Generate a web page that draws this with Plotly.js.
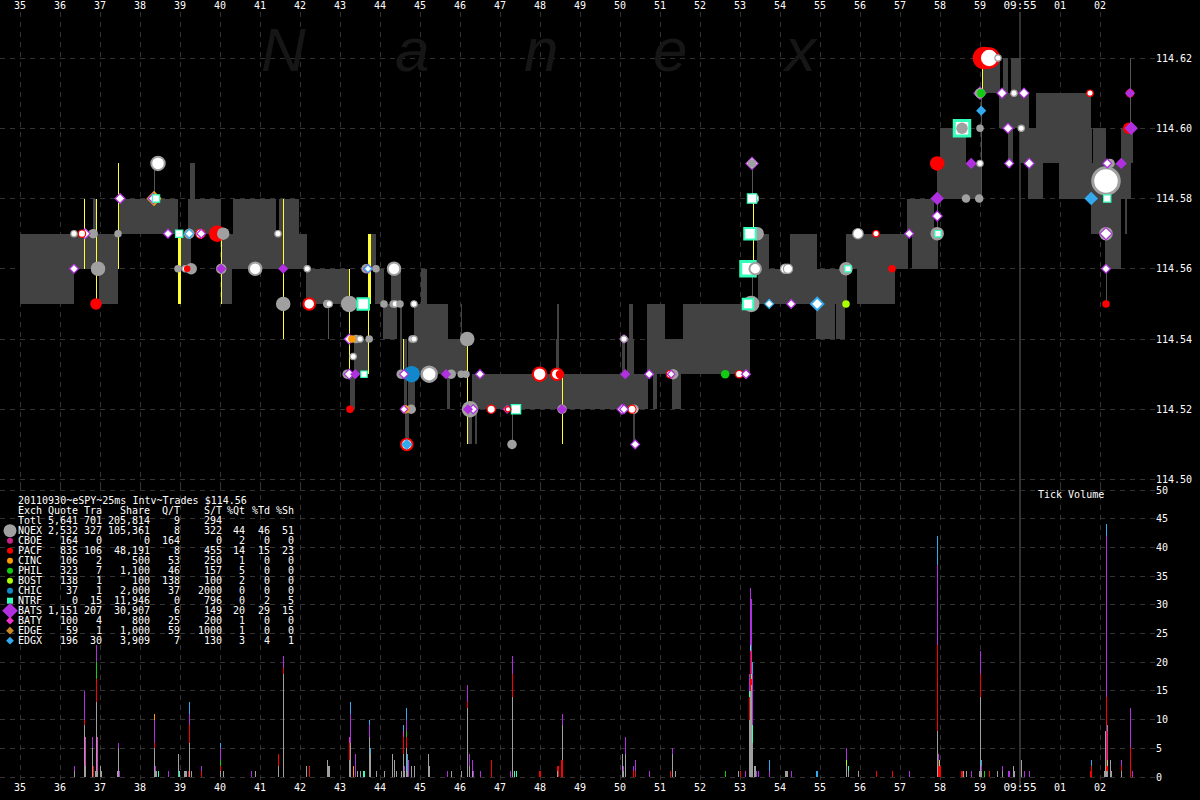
<!DOCTYPE html>
<html><head><meta charset="utf-8">
<script src="https://cdn.plot.ly/plotly-3.0.1.min.js"></script>
<style>html,body{margin:0;padding:0;background:#000}#c{width:1200px;height:800px}
.bars path,.js-line{shape-rendering:crispEdges}</style>
</head><body><div id="c"></div>
<script>
// ---------- labels ----------
const secondTicks=[35,36,37,38,39,40,41,42,43,44,45,46,47,48,49,50,51,52,53,54,55,56,57,58,59,60,61,62];
const secondLabels=['35','36','37','38','39','40','41','42','43','44','45','46','47','48','49','50','51','52','53','54','55','56','57','58','59','<span style="font-size:11px">09:55</span>','01','02'];
const priceTicks=[114.50,114.52,114.54,114.56,114.58,114.60,114.62];
const priceLabels=['114.50','114.52','114.54','114.56','114.58','114.60','114.62'];
const volTicks=[0,5,10,15,20,25,30,35,40,45,50];

// ---------- exchange table ----------
const tableTitle='20110930~eSPY~25ms Intv~Trades $114.56';
const tableHead=['Exch','Quote','Tra','Share','Q/T','S/T','%Qt','%Td','%Sh'];
const rowExch =['Totl','NQEX','CBOE','PACF','CINC','PHIL','BOST','CHIC','NTRF','BATS','BATY','EDGE','EDGX'];
const rowQuote=['5,641','2,532','164','835','106','323','138','37','0','1,151','100','59','196'];
const rowTra  =['701','327','0','106','2','7','1','1','15','207','4','1','30'];
const rowShare=['205,814','105,361','0','48,191','500','1,100','100','2,000','11,946','30,907','800','1,000','3,909'];
const rowQT   =['9','8','164','8','53','46','138','37','0','6','25','59','7'];
const rowST   =['294','322','0','455','250','157','100','2000','796','149','200','1000','130'];
const rowPQt  =['','44','2','14','1','5','2','0','0','20','1','1','3'];
const rowPTd  =['','46','0','15','0','0','0','0','2','29','0','0','4'];
const rowPSh  =['','51','0','23','0','0','0','0','5','15','0','0','1'];
const keyColor=[null,'#a0a0a0','#cc2288','#ff0000','#ff9900','#11cc11','#aaff00','#1188cc','#33ffbb','#b030e0','#ee33cc','#cc8822','#33aaee'];
const keySymbol=[null,'circle','circle','circle','circle','circle','circle','circle','square','diamond','diamond','diamond','diamond'];
const keySize=[0,13,6,6,6,6,6,6,6,12,6,6,6];

// ---------- NBBO band: start, end, low, high ----------
const bandT0=[35.0,36.35,36.98,36.83,37.48,39.25,39.2,39.0,40.03,40.3,40.33,41.48,42.15,43.35,43.25,43.78,43.88,44.08,44.28,45.03,44.85,44.7,44.5,44.6,44.7,44.63,45.68,46.03,46.18,46.38,46.3,48.43,48.4,50.23,50.18,50.05,50.33,50.68,51.13,51.58,50.83,51.3,53.43,53.45,54.25,54.9,55.4,55.65,55.93,57.18,57.3,57.93,58.0,59.05,59.48,59.58,59.78,60.4,60.0,61.83,62.53,59.7,60.2,60.98,61.78,62.13,62.63];
const bandT1=[36.35,36.98,37.45,36.93,38.95,39.38,40.03,39.28,40.3,42.18,41.4,41.98,43.23,43.7,43.38,43.9,44.1,44.43,44.53,45.18,45.7,46.18,44.55,44.68,44.88,44.73,45.75,46.05,46.3,46.43,50.7,48.48,48.48,50.33,50.35,50.13,50.38,51.13,51.58,53.25,50.93,51.53,53.73,55.68,54.93,55.38,55.63,57.2,56.88,57.85,57.95,59.03,58.65,59.5,60.23,59.7,60.03,61.78,61.8,62.15,62.83,59.83,60.58,62.78,62.53,62.53,62.68];
const bandLo=[114.55,114.56,114.55,114.57,114.57,114.58,114.57,114.56,114.55,114.56,114.57,114.57,114.55,114.53,114.52,114.56,114.55,114.54,114.55,114.55,114.54,114.53,114.53,114.52,114.52,114.51,114.52,114.54,114.51,114.51,114.52,114.54,114.53,114.54,114.53,114.53,114.51,114.53,114.53,114.53,114.52,114.52,114.56,114.55,114.56,114.54,114.54,114.56,114.55,114.57,114.56,114.58,114.59,114.61,114.60,114.61,114.61,114.60,114.59,114.59,114.59,114.59,114.58,114.58,114.57,114.56,114.57];
const bandHi=[114.57,114.57,114.57,114.58,114.58,114.59,114.58,114.57,114.57,114.57,114.58,114.58,114.56,114.54,114.53,114.57,114.56,114.55,114.56,114.56,114.55,114.54,114.55,114.54,114.53,114.52,114.53,114.55,114.52,114.52,114.53,114.55,114.54,114.55,114.54,114.54,114.52,114.55,114.54,114.55,114.53,114.53,114.57,114.56,114.57,114.55,114.55,114.57,114.56,114.58,114.57,114.59,114.60,114.62,114.61,114.62,114.62,114.61,114.60,114.60,114.60,114.60,114.59,114.59,114.58,114.57,114.58];

// ---------- trade-through lines ----------
const yellowT=[36.61,36.91,37.46,40.03,41.58,43.23,43.7,44.58,46.18,48.55,53.33,59.05];
const yellowFrom=[114.58,114.58,114.59,114.57,114.58,114.56,114.55,114.54,114.54,114.53,114.58,114.62];
const yellowTo=[114.56,114.55,114.56,114.55,114.54,114.53,114.53,114.53,114.51,114.51,114.56,114.61];
const thickT=[38.98,43.74];
const thickFrom=[114.57,114.57];
const thickTo=[114.55,114.55];
const grayT=[38.35,42.7,53.3,53.3,59.03,62.75,62.15,57.93,47.3];
const grayFrom=[114.59,114.55,114.59,114.56,114.61,114.62,114.56,114.58,114.52];
const grayTo=[114.58,114.54,114.58,114.55,114.58,114.60,114.55,114.57,114.51];
const minuteLine=60;

// ---------- quotes and trades per exchange: time, price, size, white centre ----------
const nqexT=[36.35,36.83,37.45,38.45,40.08,41.45,36.95,38.95,39.13,39.28,40.03,40.88,42.18,43.65,43.9,44.35,41.58,42.68,42.73,43.23,44.1,44.33,44.38,44.5,44.85,43.4,43.5,43.73,44.8,44.85,46.18,50.1,43.33,43.18,44.53,45.23,45.78,46.03,46.15,51.33,44.78,46.25,48.55,50.35,47.3,59.45,59.0,59.85,58.55,59.0,60.03,59.0,53.3,62.25,62.15,53.35,58.65,58.98,53.43,55.95,57.93,62.15,53.38,54.13,54.2,55.65,53.28,39.23];
const nqexP=[114.57,114.57,114.57,114.59,114.57,114.57,114.56,114.56,114.56,114.56,114.56,114.56,114.56,114.56,114.56,114.56,114.55,114.55,114.55,114.55,114.55,114.55,114.55,114.55,114.55,114.54,114.54,114.54,114.54,114.54,114.54,114.54,114.535,114.53,114.53,114.53,114.53,114.53,114.53,114.53,114.52,114.52,114.52,114.52,114.51,114.62,114.61,114.61,114.60,114.60,114.60,114.59,114.59,114.59,114.585,114.58,114.58,114.58,114.57,114.57,114.57,114.57,114.56,114.56,114.56,114.56,114.55,114.57];
const nqexS=[7,9,7,15,12,7,14,7,7,11,10,14,7,9,7,14,14,8,7,16,7,7,7,7,7,8,7,7,7,7,14,7,7,9,9,17,9,7,7,10,9,16,9,9,9,7,10,7,11,7,7,7,8,9,29,10,8,8,13,11,13,13,13,10,10,13,16,10];
const nqexW=[1,0,0,1,0,1,0,0,1,0,0,1,1,0,0,1,0,0,1,0,0,0,1,0,1,0,1,0,1,1,0,1,1,0,0,1,0,0,0,0,0,0,0,1,0,1,0,1,0,0,1,1,0,0,1,1,0,0,0,1,0,0,1,1,1,0,0,0];

const pacfT=[36.55,39.51,39.93,36.9,42.23,39.18,47.99,48.42,48.5,51.25,52.98,46.78,47.2,50.3,43.25,44.67,59.1,59.23,61.75,62.75,62.72,57.93,56.4,56.8,62.15];
const pacfP=[114.57,114.57,114.57,114.55,114.55,114.56,114.53,114.53,114.53,114.53,114.53,114.52,114.52,114.52,114.52,114.51,114.62,114.62,114.61,114.61,114.60,114.59,114.57,114.56,114.55];
const pacfS=[8,10,16,11,13,6,15,13,8,8,8,9,6,9,7,13,22,21,7,8,11,14,7,7,7];
const pacfW=[1,1,0,0,1,0,1,1,0,1,1,1,1,1,0,1,0,1,1,0,0,0,1,0,0];

const cincT=[43.3,44.63];
const cincP=[114.54,114.52];
const cincS=[7,8];
const cincW=[0,0];
const edgeT=[38.35];
const edgeP=[114.58];
const edgeS=[12];
const edgeW=[1];
const philT=[52.63,59.03];
const philP=[114.53,114.61];
const philS=[8,8];
const philW=[0,0];
const bostT=[55.65];
const bostP=[114.55];
const bostS=[7];
const bostW=[0];
const chicT=[44.79];
const chicP=[114.53];
const chicS=[16];
const chicW=[0];

const batsT=[36.63,37.5,38.33,38.7,39.53,36.35,40.03,41.58,43.7,43.23,43.23,43.38,44.6,45.65,46.5,50.13,50.73,51.28,53.15,46.33,46.2,47.18,48.55,50.05,50.1,50.38,44.6,59.55,60.1,62.75,59.0,59.7,62.78,58.78,59.73,60.23,53.3,62.18,62.53,57.93,57.93,57.23,62.15,62.15,54.28,50.1];
const batsP=[114.57,114.58,114.58,114.57,114.57,114.56,114.56,114.56,114.56,114.54,114.53,114.53,114.53,114.53,114.53,114.53,114.53,114.53,114.53,114.52,114.52,114.52,114.52,114.52,114.52,114.51,114.52,114.61,114.61,114.61,114.61,114.60,114.60,114.59,114.59,114.59,114.59,114.59,114.59,114.58,114.575,114.57,114.57,114.56,114.55,114.54];
const batsS=[9,9,9,8,8,8,8,8,8,9,9,8,8,8,8,8,8,7,8,8,8,7,8,9,8,8,7,9,9,8,11,9,11,9,8,9,11,8,9,11,9,8,11,8,8,8];
const batsW=[1,1,1,1,1,1,0,0,1,1,1,0,1,0,1,0,1,1,1,1,0,1,0,1,1,1,1,1,1,0,1,1,0,0,1,1,1,1,0,0,1,1,1,1,1,0];

const edgxT=[39.23,43.7,44.67,59.03,61.78,53.73,54.93];
const edgxP=[114.57,114.56,114.51,114.605,114.58,114.55,114.55];
const edgxS=[8,7,9,8,11,8,12];
const edgxW=[1,1,0,0,0,1,1];

const ntrfT=[38.4,38.98,43.58,43.6,47.4,58.55,53.3,53.25,53.2,57.95,62.18,55.7,53.2];
const ntrfP=[114.58,114.57,114.55,114.53,114.52,114.60,114.58,114.57,114.56,114.57,114.58,114.56,114.55];
const ntrfS=[8,8,13,7,10,18,10,13,17,7,8,7,12];
const ntrfW=[1,1,1,1,1,1,1,1,1,1,1,1,1];

// ---------- tick volume per exchange ----------
const volNqexT=[36.356,36.614,36.633,36.806,36.892,36.911,36.94,37.006,37.035,37.44,37.466,38.355,38.384,38.413,38.958,39.12,39.145,39.17,39.235,39.283,40.01,40.087,40.88,41.464,41.589,42.172,42.689,42.718,42.74,43.234,43.253,43.445,43.512,43.73,43.76,43.913,44.115,44.306,44.373,44.40,44.545,44.593,44.622,44.66,44.688,44.794,44.86,45.215,45.234,45.789,46.028,46.181,46.248,46.305,47.31,48.43,48.56,50.055,50.093,50.131,51.308,51.385,52.963,53.225,53.25,53.275,53.3,53.36,53.39,53.45,54.14,54.165,54.19,54.915,55.661,55.70,55.967,57.94,58.59,58.655,58.99,59.019,59.04,59.449,59.564,59.841,59.865,60.03,62.10,62.125,62.15,62.175,62.26,62.285,62.53];
const volNqexV=[1,9,2,5,1,13,1,2,1,1,5,5,1,1,4,1,1,1,6,1,1,1,1,2,18,2,3,2,2,3,6,1,1,7,4,1,1,4,3,1,1,4,1,5,1,2,2,4,2,1,1,12,2,1,14,1,9,4,1,4,4,1,1,10,15,16,6,2,2,1,1,1,1,1,2,1,1,8,1,1,1,14,1,1,1,2,1,3,1,8,1,1,3,1,1];
const volPacfT=[36.614,36.83,36.911,38.355,39.21,39.235,39.532,40.01,41.464,41.589,42.23,43.234,44.593,44.66,46.181,46.784,47.31,47.98,48.005,48.43,48.455,48.534,48.55,50.33,50.38,51.26,53.0,53.225,53.25,53.275,56.407,56.809,57.94,57.965,57.99,58.015,58.54,58.565,59.019,59.24,61.77,61.79,62.15,62.175,62.53,62.76];
const volPacfV=[1,2,4,1,1,3,1,1,2,1,2,3,3,2,1,3,4,1,1,1,2,3,3,1,1,1,1,4,7,1,1,1,15,3,2,2,1,1,4,1,1,2,13,1,1,5];
const volPhilT=[36.911,40.01,44.66,52.628,59.114];
const volPhilV=[3,1,1,1,1];
const volBostT=[55.661];
const volBostV=[1];
const volNtrfT=[38.46,38.987,43.59,43.615,47.367,47.405,53.225,53.25,53.275,53.3,55.70,57.99,62.175];
const volNtrfV=[1,1,1,1,1,1,1,1,1,3,1,1,1];
const volBatsT=[36.356,36.614,36.806,36.911,37.466,37.494,38.355,38.384,38.709,39.235,39.532,40.01,40.785,41.589,43.253,43.387,43.73,44.622,44.66,44.717,45.684,46.181,46.248,46.305,46.334,46.506,47.262,47.31,48.56,50.093,50.131,50.33,50.38,50.734,51.308,53.145,53.225,53.25,53.275,53.3,53.41,53.46,53.738,54.283,55.661,57.239,57.94,57.965,58.78,59.019,59.04,59.564,59.717,59.74,60.11,60.23,62.15,62.175,62.53,62.76,62.81];
const volBatsV=[1,5,2,3,1,1,4,1,1,2,1,2,1,2,5,4,2,1,2,3,1,3,2,2,1,1,1,3,2,1,3,1,2,1,1,1,3,10,13,9,1,1,1,1,2,1,14,1,1,4,1,1,1,1,1,1,28,5,1,7,1];
const volBatyT=[36.633,36.94,43.234,44.593];
const volBatyV=[5,6,1,1];
const volEdgxT=[39.235,40.01,43.253,43.73,43.76,44.593,44.66,44.688,53.3,53.738,54.90,54.93,57.94,59.04,61.79,62.15,62.175];
const volEdgxV=[2,1,2,1,1,1,2,3,2,2,1,1,5,1,1,2,1];
const volCincT=[38.355,43.34];
const volCincV=[1,2];

// ---------- build ----------
const C={nqex:'#a0a0a0',pacf:'#ff0000',cinc:'#ff9900',edge:'#cc8822',phil:'#11cc11',bost:'#aaff00',chic:'#1188cc',bats:'#b030e0',edgx:'#33aaee',ntrf:'#33ffbb',baty:'#ee33cc',band:'#424242'};
const PLOT_W=1155,PLOT_TOP=12,PLOT_BOT=780,PLOT_H=PLOT_BOT-PLOT_TOP,SPLIT=485;
const paperX=px=>px/PLOT_W;
const paperY=py=>(PLOT_BOT-py)/PLOT_H;
const secAt=px=>34.5+px/40;
const volAt=py=>(777-py)/5.74;

const traces=[];
// band
traces.push({type:'bar',xaxis:'x2',yaxis:'y',x:bandT0,y:bandHi.map((h,i)=>h-bandLo[i]),base:bandLo,
  width:bandT0.map((t,i)=>bandT1[i]-t),offset:0,marker:{color:C.band,opacity:1,line:{width:0}},hoverinfo:'skip',showlegend:false});
// lines
function seg(ts,a,b){const x=[],y=[];ts.forEach((t,i)=>{x.push(t,t,null);y.push(a[i],b[i],null)});return{x,y}}
function lineTrace(s,color,w){return{type:'scatter',mode:'lines',xaxis:'x2',yaxis:'y',x:s.x,y:s.y,line:{color,width:w},hoverinfo:'skip',showlegend:false}}
traces.push(lineTrace(seg(grayT,grayFrom,grayTo),'#555555',1));
traces.push(lineTrace(seg(yellowT,yellowFrom,yellowTo),'#ffff33',1));
traces.push(lineTrace(seg(thickT,thickFrom,thickTo),'#ffff33',3));
// markers, largest first
const sets=[[nqexT,nqexP,nqexS,nqexW,C.nqex,'circle'],[pacfT,pacfP,pacfS,pacfW,C.pacf,'circle'],[cincT,cincP,cincS,cincW,C.cinc,'circle'],
 [edgeT,edgeP,edgeS,edgeW,'#e8a020','diamond'],[philT,philP,philS,philW,C.phil,'circle'],[bostT,bostP,bostS,bostW,C.bost,'circle'],
 [chicT,chicP,chicS,chicW,C.chic,'circle'],[batsT,batsP,batsS,batsW,C.bats,'diamond'],[edgxT,edgxP,edgxS,edgxW,C.edgx,'diamond'],[ntrfT,ntrfP,ntrfS,ntrfW,C.ntrf,'square']];
let pts=[];
sets.forEach(([t,p,s,w,c,sym])=>t.forEach((v,i)=>pts.push({t:v,p:p[i],s:s[i],w:w[i],c,sym})));
pts=pts.map((d,i)=>({...d,i})).sort((a,b)=>b.s-a.s||a.i-b.i);
const lw=d=>!d.w?0:(d.s>=26?3:d.s>=17?(d.sym==='square'?3:2.5):d.s>=12?2:1.2);
const drawSize=d=>d.sym==='diamond'?(d.s+1-lw(d))/1.15:d.s+0.5-lw(d);
traces.push({type:'scatter',mode:'markers',xaxis:'x2',yaxis:'y',x:pts.map(d=>d.t),y:pts.map(d=>d.p),
  marker:{opacity:1,symbol:pts.map(d=>d.sym),size:pts.map(drawSize),
    color:pts.map(d=>d.w?'#ffffff':d.c),line:{color:pts.map(d=>d.c),width:pts.map(lw)}},hoverinfo:'skip',showlegend:false});
// stacked volume bars
const stackBase=new Map();
function volTrace(ts,vs,color){
  const base=ts.map((t,i)=>{const b=stackBase.get(t)||0;stackBase.set(t,b+vs[i]);return b});
  return{type:'bar',xaxis:'x',yaxis:'y2',x:ts,y:vs,base,width:0.025,marker:{color,opacity:1,line:{width:0}},hoverinfo:'skip',showlegend:false};
}
[[volNqexT,volNqexV,C.nqex],[volPacfT,volPacfV,C.pacf],[volPhilT,volPhilV,C.phil],[volBostT,volBostV,C.bost],[volNtrfT,volNtrfV,C.ntrf],
 [volBatsT,volBatsV,C.bats],[volBatyT,volBatyV,C.baty],[volCincT,volCincV,C.cinc],[volEdgxT,volEdgxV,C.edgx]].forEach(a=>traces.push(volTrace(...a)));
// table keys
const ROW0=520.7,ROWH=10,keyIdx=rowExch.map((e,i)=>i).filter(i=>keyColor[i]);
traces.push({type:'scatter',mode:'markers',xaxis:'x',yaxis:'y2',x:keyIdx.map(()=>secAt(10)),y:keyIdx.map(i=>volAt(ROW0+i*ROWH)),
  marker:{opacity:1,symbol:keyIdx.map(i=>keySymbol[i]),size:keyIdx.map(i=>keySize[i]),color:keyIdx.map(i=>keyColor[i]),line:{width:0}},hoverinfo:'skip',showlegend:false});

// annotations
const mono='"DejaVu Sans Mono", monospace';
const anns=[];
function label(text,px,py,anchor,size,color,family){anns.push({text,xref:'paper',yref:'paper',x:paperX(px),y:paperY(py),xanchor:anchor,yanchor:'middle',showarrow:false,
  font:{family:family||mono,size:size||10,color:color||'#ffffff'},borderpad:0,borderwidth:0,align:anchor});}
label(tableTitle,18,500.7,'left');
const colEnd=[42,78,102,150,180,222,245,270,294];
tableHead.forEach((h,i)=>label(h,i===0?18:colEnd[i],510.7,i===0?'left':'right'));
[rowExch,rowQuote,rowTra,rowShare,rowQT,rowST,rowPQt,rowPTd,rowPSh].forEach((col,c)=>col.forEach((v,r)=>{
  if(v!=='')label(v,c===0?18:colEnd[c],ROW0+r*ROWH,c===0?'left':'right');}));
label('Tick Volume',1038,494.5,'left');
const mark=['N','a','n','e','x'];
const markX=[283,412,541,670,800];
mark.forEach((m,i)=>label('<i>'+m+'</i>',markX[i],50,'center',62,'#161616','"Liberation Sans", sans-serif'));

const grid={showgrid:true,gridcolor:'#333333',griddash:'5px,5px',gridwidth:1,zeroline:false,showline:false,ticks:''};
const tickFont={family:mono,size:10,color:'#ffffff'};
const xbase=Object.assign({},grid,{type:'linear',range:[secAt(0),secAt(PLOT_W)],tickmode:'array',tickvals:secondTicks,ticktext:secondLabels,tickfont:tickFont,tickangle:0,fixedrange:true});
const layout={width:1200,height:800,paper_bgcolor:'#000',plot_bgcolor:'rgba(0,0,0,0)',showlegend:false,barmode:'overlay',hovermode:false,
  margin:{l:0,r:45,t:PLOT_TOP,b:800-PLOT_BOT,pad:0},
  xaxis:Object.assign({},xbase,{anchor:'y2',side:'bottom'}),
  xaxis2:Object.assign({},xbase,{anchor:'y',side:'top'}),
  yaxis:Object.assign({},grid,{domain:[paperY(SPLIT),1],anchor:'x2',side:'right',range:[114.50-5.5/3512.5,114.62+46/3512.5],tickmode:'array',tickvals:priceTicks,ticktext:priceLabels,tickfont:tickFont,fixedrange:true}),
  yaxis2:Object.assign({},grid,{domain:[0,paperY(SPLIT)],anchor:'x',side:'right',range:[-3/5.74,(777-SPLIT)/5.74],tickmode:'array',tickvals:volTicks,ticktext:volTicks.map(String),tickfont:tickFont,fixedrange:true}),
  shapes:[{type:'line',layer:'below',xref:'x',yref:'paper',x0:minuteLine,x1:minuteLine,y0:-8/PLOT_H,y1:1,line:{color:'#666666',width:1}}],
  annotations:anns};
Plotly.newPlot('c',traces,layout,{displayModeBar:false,staticPlot:true});
</script></body></html>
